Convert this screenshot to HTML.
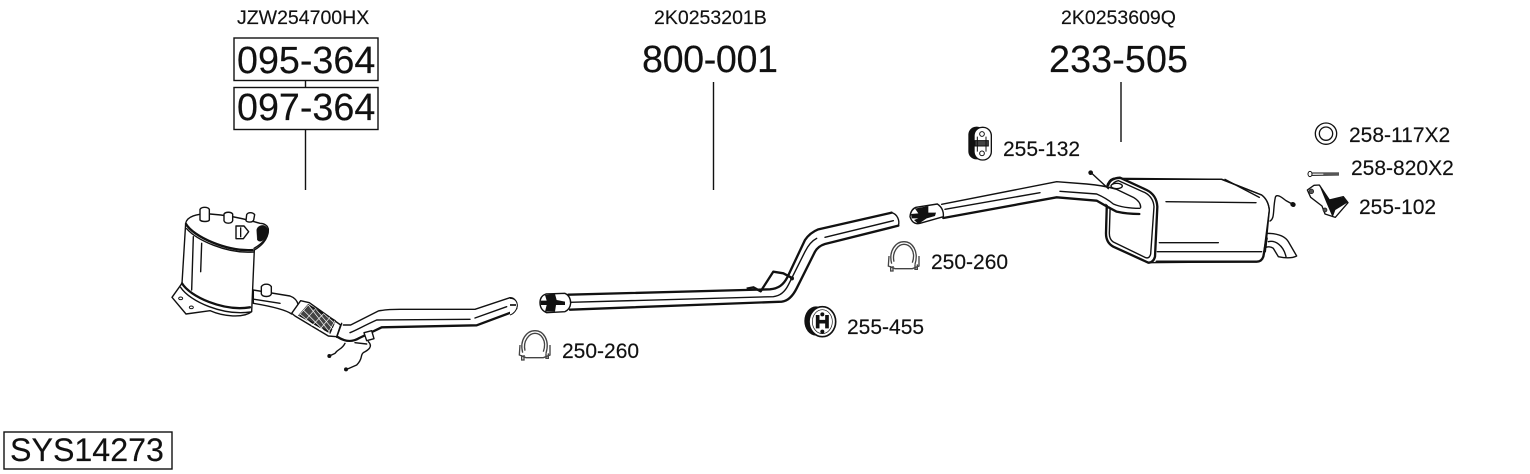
<!DOCTYPE html>
<html><head><meta charset="utf-8"><style>
html,body{margin:0;padding:0;background:#fff}
svg{display:block}
text{font-family:"Liberation Sans",sans-serif;fill:#111;stroke:#111;stroke-width:.15}
.big{font-size:37.7px}.ref{font-size:19.5px}.lab{font-size:21px}
.k{fill:none;stroke:#111;stroke-width:4.2;stroke-linecap:round;stroke-linejoin:round}
.t{fill:none;stroke:#111;stroke-width:7;stroke-linecap:round;stroke-linejoin:round}
.w{fill:#fff;stroke:#111;stroke-width:4.2;stroke-linejoin:round}
</style></head><body>
<svg width="1530" height="474" viewBox="0 0 1530 474" xmlns="http://www.w3.org/2000/svg">
<rect width="1530" height="474" fill="#fff"/>
<text class="ref" x="237" y="24">JZW254700HX</text>
<text class="ref" x="654" y="24" font-size="18">2K0253201B</text>
<text class="ref" x="1061" y="24">2K0253609Q</text>
<g fill="#fff" stroke="#111" stroke-width="1.4">
<rect x="234" y="38" width="144" height="42.5"/>
<rect x="234" y="87.5" width="144" height="42"/>
<rect x="4" y="432" width="168" height="37"/>
</g>
<path d="M305.500 80V87M305.500 130V190M713.500 82V190M1121 82V142" stroke="#111" stroke-width="1.400" fill="none"/>
<text class="big" x="237" y="73">095-364</text>
<text class="big" x="237" y="120">097-364</text>
<text class="big" x="642" y="72" textLength="136">800-001</text>
<text class="big" x="1049" y="72" textLength="139">233-505</text>
<text x="10" y="461" font-size="32.2">SYS14273</text>
<text class="lab" x="562" y="358">250-260</text>
<text class="lab" x="847" y="334">255-455</text>
<text class="lab" x="931" y="269">250-260</text>
<text class="lab" x="1003" y="156">255-132</text>
<text class="lab" x="1349" y="142">258-117X2</text>
<text class="lab" x="1351" y="175">258-820X2</text>
<text class="lab" x="1359" y="214">255-102</text>

<!-- DPF + front pipe, zoom coordinates -->
<g transform="translate(160,190) scale(.33333)">
<path class="w" d="M77,100 L66,280 L36,322 L78,372 L150,362 C190,380 250,385 275,365 L283,180 C300,170 325,150 325,120 C325,105 310,100 300,100 C250,85 200,75 150,72 C110,70 80,80 77,100Z"/>
<path class="t" d="M78,102 C100,140 200,185 278,180"/>
<path class="k" d="M80,116 C110,150 200,192 280,186"/>
<path class="t" d="M66,280 C90,320 190,365 270,352"/>
<path class="k" d="M62,292 C90,335 190,378 272,366"/>
<path class="k" d="M100,140 L95,300M125,160 L122,245"/>
<ellipse cx="62" cy="325" rx="6" ry="4" fill="none" stroke="#111" stroke-width="3"/>
<ellipse cx="94" cy="352" rx="6" ry="4" fill="none" stroke="#111" stroke-width="3"/>
<path class="w" d="M120,58 V90 C125,96 145,96 148,90 V58 C143,50 125,50 120,58Z"/>
<path class="w" d="M192,72 V92 C195,102 215,102 218,92 V72 C213,65 197,65 192,72Z"/>
<path class="w" d="M260,74 L258,92 C262,98 278,98 281,90 L284,74 C278,66 264,66 260,74Z"/>
<path class="w" d="M228,108 L228,146 L250,146 L266,125 L252,108Z"/>
<path d="M242,112V142" stroke="#111" stroke-width="4"/>
<path d="M290,120C292,105 315,100 322,115C328,135 305,165 292,150Z" fill="#111" stroke="#111"/>
<path class="k" d="M282,175 C300,165 326,145 325,118"/>
<!-- pipe to flex -->
<path class="w" d="M280,300 L390,318 Q410,325 415,345 L395,372 Q370,355 280,340Z"/>
<path class="k" d="M283,328 L360,340"/>
<path class="w" d="M304,290 V312 C308,322 330,322 334,312 V290 C328,280 310,280 304,290Z"/>
<!-- flex -->
<path class="w" d="M422,332 L448,338 L542,405 L530,440 L505,438 L405,378 L395,370Z"/>
<path d="M445,345 L525,392 L510,428 L418,376Z" fill="#444" stroke="#111" stroke-width="5"/>
<path d="M445,345L510,428M465,355L525,425M490,370L530,405M430,360L490,420M420,372L465,410M445,345L418,376M465,358L435,392M490,372L455,408M510,382L478,420M525,392L505,428" stroke="#fff" stroke-width="2" fill="none"/>
<!-- rear section -->
<path d="M545,400 L570,405 L660,362 L950,358 L1052,322 Q1068,325 1072,345 Q1070,360 1060,365 L955,405 L665,412 L590,450 Q560,460 535,445Z" fill="#fff" stroke="none"/>
<path class="k" d="M550,405 L572,405 L655,363 C680,358 700,358 720,358 L945,358 L1050,323"/>
<path class="k" d="M1050,323 C1064,322 1074,338 1070,356 L1062,364"/>
<path class="t" d="M533,441 C560,458 580,455 598,444 L665,412 L950,406 L1062,364"/>
<path class="k" d="M570,428 C590,420 610,408 650,390 L930,388M945,384 L1040,350"/>
<path class="k" d="M545,400 L530,442"/>
<path class="w" d="M612,428 L635,422 L642,446 L620,452Z"/>
<path class="k" d="M555,460 C545,480 535,475 525,490 L508,498"/>
<path class="k" d="M625,455 C640,470 625,480 610,488 C600,495 610,505 590,525 L560,538"/>
<path class="k" d="M585,458 L620,462"/>
<circle cx="508" cy="498" r="6" fill="#111"/><circle cx="558" cy="538" r="6" fill="#111"/>
</g>

<!-- middle pipe, zoom coordinates -->
<g transform="translate(510,190) scale(.33333)">
<path d="M175,315 L780,298 C830,295 850,230 900,140 Q910,125 925,118 L1145,68 Q1168,75 1165,105 L940,168 Q925,175 915,190 L855,300 C840,325 825,335 800,337 L180,360Z" fill="#fff" stroke="none"/>
<path class="t" d="M175,314 L780,298 C805,296 820,285 832,262 L885,150 Q900,128 925,118 L1145,68"/>
<path class="k" d="M1145,68 C1162,72 1170,92 1165,107"/>
<path class="t" d="M180,359 L815,335 C835,333 850,315 860,295 L915,185 Q925,168 945,162 L1165,107"/>
<path class="k" d="M180,337 L790,320 C812,318 825,305 835,285 L885,185 Q900,155 920,145M945,142 L1150,92"/>
<path class="w" d="M108,312 L165,310 Q182,318 182,340 Q180,358 165,365 L110,368 Q90,360 90,338 Q90,318 108,312Z"/>
<path d="M105,315 L135,312 L140,330 L165,335 L165,345 L138,345 L135,365 L105,365 L110,345 L92,345 L92,332 L110,332Z" fill="#111"/>
<path d="M0,325C15,325 22,335 22,347C20,362 10,372 0,375" fill="#fff" stroke="#111" stroke-width="3"/>
<path d="M0,345H18" stroke="#111" stroke-width="5"/>
<path d="M710,296 L730,292 L752,304 L790,245 L820,250 L848,265" fill="none" stroke="#111" stroke-width="7" stroke-linejoin="round"/>
<circle cx="846" cy="265" r="6" fill="#111"/>
<!-- clamp 1 -->
<g fill="none" stroke="#444" stroke-width="4">
<path d="M38,488 C28,450 50,422 75,422 C100,422 120,450 108,490" fill="#fff"/>
<path d="M45,482 C38,452 58,430 75,430 C92,430 112,450 100,485"/>
<path d="M30,465 L28,495 L48,503 L100,503 L120,495 L120,465"/>
<path d="M35,495V510H42V495M108,490V505H115V490"/>
</g>
<!-- clamp 2 -->
<g transform="translate(1107,-267)" fill="none" stroke="#444" stroke-width="4">
<path d="M38,488 C28,450 50,422 75,422 C100,422 120,450 108,490" fill="#fff"/>
<path d="M45,482 C38,452 58,430 75,430 C92,430 112,450 100,485"/>
<path d="M30,465 L28,495 L48,503 L100,503 L120,495 L120,465"/>
<path d="M35,495V510H42V495M108,490V505H115V490"/>
</g>
<!-- mount 255-455 -->
<ellipse cx="918" cy="393" rx="35" ry="44" fill="#111"/>
<ellipse cx="937" cy="395" rx="40" ry="45" fill="#fff" stroke="#111" stroke-width="5"/>
<ellipse cx="937" cy="395" rx="30" ry="36" fill="none" stroke="#111" stroke-width="2"/>
<path d="M923,375V415M951,375V415M923,395H951" stroke="#111" stroke-width="11" fill="none"/>
<circle cx="937" cy="373" r="6" fill="#111"/><circle cx="937" cy="425" r="6" fill="#111"/>
</g>

<!-- rear section, zoom coordinates -->
<g transform="translate(900,110) scale(.33333)">
<!-- exhaust tail -->
<path class="w" d="M1100,370 Q1150,370 1165,395 L1190,438 Q1170,448 1135,440 L1120,415 Q1110,408 1098,412Z"/>
<path class="k" d="M1105,395 C1125,390 1150,405 1158,440"/>
<!-- box -->
<path class="w" d="M640,205 L965,208 L1085,255 Q1105,270 1108,300 L1090,440 Q1085,455 1070,455 L745,458 L640,410 Q618,395 618,370 L620,230 Q625,210 640,205Z"/>
<path class="t" d="M625,225 Q630,205 660,203 L740,240 Q770,255 772,290 L765,440 Q760,458 745,458 L640,410 Q618,398 618,370 L622,230"/>
<path class="k" d="M635,228 Q640,215 655,212 L735,248 Q760,262 762,290 L752,432 Q748,448 735,442 L640,396 Q628,388 628,370 L632,240"/>
<path class="k" stroke-width="5" d="M680,208 L965,208 L1085,255 Q1105,270 1108,300 L1096,425"/>
<path class="k" d="M975,208 L1078,262"/>
<path class="t" d="M770,455 L1070,455 Q1085,455 1090,440 L1100,385"/>
<path class="k" d="M798,275 L1068,278M778,398 L955,398M772,425 L1085,425"/>
<!-- pipe -->
<path d="M120,285 L470,215 L560,222 Q610,225 650,235 L720,270 L720,310 L680,312 Q640,305 600,265 L475,262 L130,325Z" fill="#fff" stroke="none"/>
<path class="k" d="M125,283 L470,215 L560,222 Q610,226 650,238 L700,262 Q722,275 722,292"/>
<path class="t" d="M130,324 L470,262 L590,272 Q620,290 650,305 Q680,312 718,312"/>
<path class="k" d="M135,298 L420,248M480,244 L590,252 Q620,265 640,282 Q670,295 720,295"/>
<path class="k" d="M573,188 L625,236"/>
<circle cx="572" cy="188" r="7" fill="#111"/>
<ellipse cx="650" cy="228" rx="17" ry="8" fill="#fff" stroke="#111" stroke-width="4"/>
<path class="w" d="M48,292 L112,282 Q132,295 130,320 L60,340 Q38,345 30,320 Q32,298 48,292Z"/>
<path d="M45,296 L85,288 L85,308 L108,308 L105,318 L80,325 L55,342 L42,330 L55,325 L35,325 L33,312 L55,310Z" fill="#111"/>
<!-- wire -->
<path class="k" d="M1110,333 C1125,325 1118,300 1126,262 C1130,250 1145,262 1158,272 L1180,284"/>
<circle cx="1180" cy="284" r="7" fill="#111"/>
<!-- mount 255-132 -->
<rect x="205" y="50" width="50" height="98" rx="24" fill="#111"/>
<rect x="222" y="52" width="52" height="98" rx="25" fill="#fff" stroke="#111" stroke-width="4"/>
<circle cx="246" cy="72" r="7" fill="#fff" stroke="#111" stroke-width="3"/>
<circle cx="246" cy="130" r="7" fill="#fff" stroke="#111" stroke-width="3"/>
<path d="M225,92 H265 V108 H225Z" fill="#444" stroke="#111" stroke-width="3"/>
<path d="M232,80V125M258,80V125" stroke="#111" stroke-width="3"/>
</g>

<!-- small parts, zoom coordinates -->
<g transform="translate(1290,110) scale(.33333)">
<circle cx="108" cy="71" r="32" fill="none" stroke="#111" stroke-width="4"/>
<circle cx="108" cy="71" r="20" fill="none" stroke="#111" stroke-width="4"/>
<ellipse cx="60" cy="192" rx="6" ry="8" fill="none" stroke="#111" stroke-width="3"/>
<path d="M66,189 L147,189M66,196 L147,195" stroke="#111" stroke-width="3"/>
<path d="M100,192H147" stroke="#555" stroke-width="6"/>
<path d="M52,240 L72,226 L88,225 L118,270 L160,260 L174,278 L136,322 L105,312 L96,288 L62,262Z" fill="#fff" stroke="#111" stroke-width="4" stroke-linejoin="round"/>
<path d="M88,226 L120,270 L160,262 L172,278 L136,300 L128,322 L110,280Z" fill="#111"/>
<circle cx="64" cy="244" r="7" fill="#555" stroke="#111" stroke-width="2"/>
<circle cx="105" cy="300" r="6" fill="#555" stroke="#111" stroke-width="2"/>
<circle cx="8" cy="283" r="7" fill="#111"/>
</g>
</svg>
</body></html>
